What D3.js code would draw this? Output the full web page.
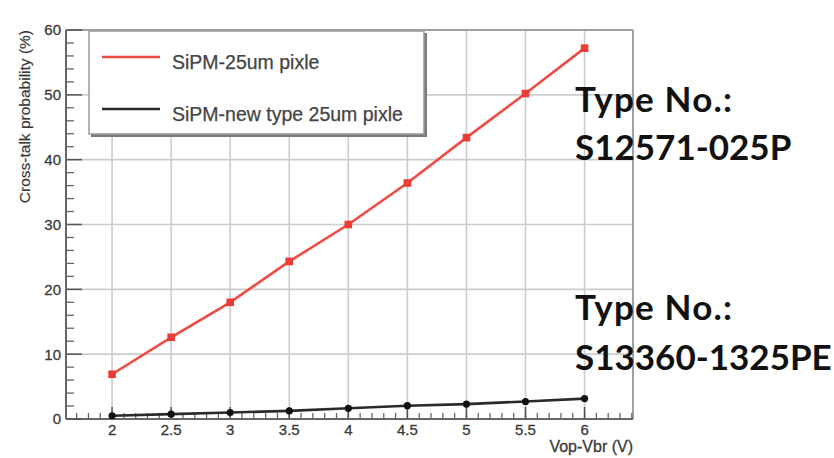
<!DOCTYPE html>
<html>
<head>
<meta charset="utf-8">
<script src="https://cdn.jsdelivr.net/npm/d3@7/dist/d3.min.js"></script>
<style>
  html, body { margin: 0; padding: 0; background: #fff; }
  svg { display: block; }
</style>
</head>
<body>
<svg id="chart" width="834" height="458"></svg>
<script>
// ---- data ----
const voltages = [2, 2.5, 3, 3.5, 4, 4.5, 5, 5.5, 6];
const oldTypeValues = [6.9, 12.6, 18.0, 24.3, 30.0, 36.4, 43.4, 50.2, 57.2];
const newTypeValues = [0.5, 0.75, 1.0, 1.25, 1.65, 2.05, 2.3, 2.7, 3.15];
const seriesNames = ["SiPM-25um pixle", "SiPM-new type 25um pixle"];
const xTickValues = [2, 2.5, 3, 3.5, 4, 4.5, 5, 5.5, 6];
const xTickLabels = ["2", "2.5", "3", "3.5", "4", "4.5", "5", "5.5", "6"];
const yTickValues = [0, 10, 20, 30, 40, 50, 60];
const yTickLabels = ["0", "10", "20", "30", "40", "50", "60"];
const annotations = [["Type No.:", "S12571-025P"], ["Type No.:", "S13360-1325PE"]];
const xTitle = "Vop-Vbr (V)";
const yTitle = "Cross-talk probability (%)";

// ---- layout ----
const svg = d3.select("#chart");
const L = 66, R = 633, T = 30, B = 419;
const x = d3.scaleLinear().domain([1.61, 6.41]).range([L, R]);
const y = d3.scaleLinear().domain([0, 60]).range([B, T]);
const font = "'Liberation Sans', Arial, Helvetica, sans-serif";
const labelColor = "#3a3a3a";

// grid
const grid = svg.append("g");
grid.selectAll("line.gx").data(xTickValues).join("line")
  .attr("x1", d => x(d)).attr("x2", d => x(d)).attr("y1", B).attr("y2", T)
  .attr("stroke", "#cccccc").attr("stroke-width", 1.6);
grid.selectAll("line.gy").data(yTickValues.filter(v => v > 0 && v < 60)).join("line")
  .attr("x1", L).attr("x2", R).attr("y1", d => y(d)).attr("y2", d => y(d))
  .attr("stroke", "#cccccc").attr("stroke-width", 1.6);

// frame (top/right)
svg.append("line").attr("x1", L).attr("x2", R).attr("y1", T).attr("y2", T)
  .attr("stroke", "#a0a0a0").attr("stroke-width", 2);
svg.append("line").attr("x1", R).attr("x2", R).attr("y1", T).attr("y2", B)
  .attr("stroke", "#a0a0a0").attr("stroke-width", 2);

// x axis
const xMinor = d3.range(17, 65).map(v => v / 10).filter(v => x(v) >= L && x(v) <= R);
const gx = svg.append("g");
gx.selectAll("line.minor").data(xMinor).join("line")
  .attr("x1", d => x(d)).attr("x2", d => x(d)).attr("y1", B).attr("y2", B - 6)
  .attr("stroke", "#666").attr("stroke-width", 1.3);
gx.selectAll("line.major").data(xTickValues).join("line")
  .attr("x1", d => x(d)).attr("x2", d => x(d)).attr("y1", B).attr("y2", B - 12)
  .attr("stroke", "#555").attr("stroke-width", 1.5);
gx.append("line").attr("x1", L).attr("x2", R).attr("y1", B).attr("y2", B)
  .attr("stroke", "#666").attr("stroke-width", 2);
gx.selectAll("text").data(xTickValues).join("text")
  .attr("x", d => x(d)).attr("y", 435)
  .attr("text-anchor", "middle").attr("font-family", font).attr("font-size", 15)
  .attr("fill", labelColor).attr("stroke", labelColor).attr("stroke-width", 0.3)
  .text((d, i) => xTickLabels[i]);
svg.append("text").attr("x", R).attr("y", 452).attr("text-anchor", "end")
  .attr("font-family", font).attr("font-size", 16).attr("fill", labelColor)
  .attr("stroke", labelColor).attr("stroke-width", 0.3).text(xTitle);

// y axis
const yMinor = d3.range(0, 61, 2).filter(v => v % 10 !== 0);
const gy = svg.append("g");
gy.selectAll("line.minor").data(yMinor).join("line")
  .attr("x1", L).attr("x2", L + 8).attr("y1", d => y(d)).attr("y2", d => y(d))
  .attr("stroke", "#666").attr("stroke-width", 1.3);
gy.selectAll("line.major").data(yTickValues).join("line")
  .attr("x1", L).attr("x2", L + 16).attr("y1", d => y(d)).attr("y2", d => y(d))
  .attr("stroke", "#555").attr("stroke-width", 1.5);
gy.append("line").attr("x1", L).attr("x2", L).attr("y1", B).attr("y2", T)
  .attr("stroke", "#666").attr("stroke-width", 2);
gy.selectAll("text").data(yTickValues).join("text")
  .attr("x", 61).attr("y", d => y(d)).attr("dy", "0.36em")
  .attr("text-anchor", "end").attr("font-family", font).attr("font-size", 15)
  .attr("fill", labelColor).attr("stroke", labelColor).attr("stroke-width", 0.3)
  .text((d, i) => yTickLabels[i]);
svg.append("text").attr("transform", `translate(30,${T}) rotate(-90)`)
  .attr("text-anchor", "end").attr("font-family", font).attr("font-size", 15.5)
  .attr("fill", labelColor).attr("stroke", labelColor).attr("stroke-width", 0.2).text(yTitle);

// series
const line = d3.line().x((d, i) => x(voltages[i])).y(d => y(d));
svg.append("path").datum(newTypeValues).attr("d", line)
  .attr("fill", "none").attr("stroke", "#2a2a2a").attr("stroke-width", 2.6);
svg.selectAll("circle.nt").data(newTypeValues).join("circle")
  .attr("cx", (d, i) => x(voltages[i])).attr("cy", d => y(d)).attr("r", 3.6)
  .attr("fill", "#111");
svg.append("path").datum(oldTypeValues).attr("d", line)
  .attr("fill", "none").attr("stroke", "#ef4b45").attr("stroke-width", 2.6);
svg.selectAll("rect.ot").data(oldTypeValues).join("rect")
  .attr("x", (d, i) => x(voltages[i]) - 3.8).attr("y", d => y(d) - 3.8)
  .attr("width", 7.6).attr("height", 7.6).attr("fill", "#ea3b34");

// legend
const lg = svg.append("g");
lg.append("rect").attr("x", 91).attr("y", 33).attr("width", 336).attr("height", 104).attr("fill", "#7a7a7a");
lg.append("rect").attr("x", 89).attr("y", 31).attr("width", 335).attr("height", 103)
  .attr("fill", "#fff").attr("stroke", "#9a9a9a").attr("stroke-width", 1.5);
const legendColors = ["#ef4b45", "#2a2a2a"];
const legendY = [57, 109];
seriesNames.forEach((name, i) => {
  lg.append("line").attr("x1", 102).attr("x2", 160).attr("y1", legendY[i]).attr("y2", legendY[i])
    .attr("stroke", legendColors[i]).attr("stroke-width", 2.6);
  lg.append("text").attr("x", 172).attr("y", legendY[i] + 12)
    .attr("font-family", font).attr("font-size", 19.5).attr("fill", "#444")
    .attr("stroke", "#444").attr("stroke-width", 0.25).text(name);
});

// annotations
const annBase = [[112, 160], [320, 370]];
annotations.forEach((lines, i) => {
  lines.forEach((t, j) => {
    svg.append("text").attr("x", 575).attr("y", annBase[i][j])
      .attr("font-family", "Lato, 'Open Sans', sans-serif").attr("font-weight", 700)
      .attr("font-size", 35).attr("letter-spacing", j === 0 ? 1.2 : 0)
      .attr("fill", "#111").text(t);
  });
});
</script>
</body>
</html>
